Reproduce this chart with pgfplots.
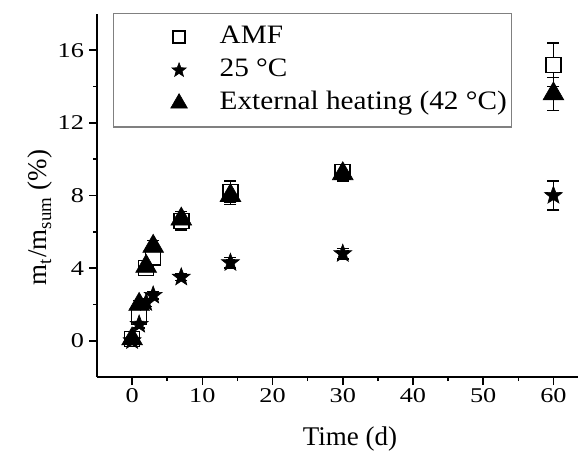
\documentclass[border=0pt]{standalone}
\usepackage{pgfplots}
\pgfplotsset{compat=1.18}
\usepackage{fontspec}
\setmainfont{Liberation Serif}
\newfontfamily\tickfont{Liberation Serif}[FakeStretch=1.25]
\newfontfamily\legfont{Liberation Serif}[FakeStretch=1.1]

% filled five-point star
\pgfdeclareplotmark{fstar}{%
  \pgfpathmoveto{\pgfpointpolar{90}{\pgfplotmarksize}}%
  \pgfpathlineto{\pgfpointpolar{126}{0.42\pgfplotmarksize}}%
  \pgfpathlineto{\pgfpointpolar{162}{\pgfplotmarksize}}%
  \pgfpathlineto{\pgfpointpolar{198}{0.42\pgfplotmarksize}}%
  \pgfpathlineto{\pgfpointpolar{234}{\pgfplotmarksize}}%
  \pgfpathlineto{\pgfpointpolar{270}{0.42\pgfplotmarksize}}%
  \pgfpathlineto{\pgfpointpolar{306}{\pgfplotmarksize}}%
  \pgfpathlineto{\pgfpointpolar{342}{0.42\pgfplotmarksize}}%
  \pgfpathlineto{\pgfpointpolar{18}{\pgfplotmarksize}}%
  \pgfpathlineto{\pgfpointpolar{54}{0.42\pgfplotmarksize}}%
  \pgfpathclose
  \pgfusepathqfillstroke
}

\begin{document}
\begin{tikzpicture}
  \begin{axis}[
    name=ax,
    scale only axis,
    width=240.5pt, height=181.5pt,
    xmin=-5, xmax=63.5,
    ymin=-2, ymax=18,
    axis x line*=bottom,
    axis y line*=left,
    axis line style={line width=0.9pt},
    xtick={0,10,20,30,40,50,60},
    ytick={0,4,8,12,16},
    minor x tick num=1,
    minor y tick num=1,
    tick align=outside,
    major tick length=4pt,
    minor tick length=2pt,
    tick style={line width=0.8pt, black},
    /pgf/number format/assume math mode=true,
    tick label style={font=\tickfont\fontsize{10.5}{12}\selectfont},
    xticklabel style={yshift=2pt},
    yticklabel style={xshift=1pt},
    label style={font=\fontsize{13.5}{16}\selectfont},
    xlabel={Time (d)},
    ylabel={m\textsubscript{t}/m\textsubscript{sum} (\%)},
    xlabel style={at={(axis description cs:0.526,-0.171)}, anchor=center},
    ylabel style={at={(axis description cs:-0.118,0.44)}, anchor=center},
    legend style={
      at={(axis description cs:0.033,1.003)}, anchor=north west,
      draw=gray, line width=0.6pt, fill=white,
      font=\legfont\fontsize{13.3}{15}\selectfont,
      inner xsep=2.5pt, inner ysep=5.5pt,
      row sep=3.75pt,
      nodes={inner sep=0pt, text height=9.5pt, text depth=3.25pt},
    },
    legend image code/.code={%
      \path (-30pt,0pt) (20pt,0pt);
      \draw[every mark/.append style={scale=0.8}] plot coordinates {(0pt,0pt)};
    },
    legend cell align=left,
    clip=false,
  ]
    % AMF
    \addplot[only marks, mark=square*, mark size=3.75pt,
      mark options={fill=white, draw=black, line width=0.8pt},
      error bars/.cd, y dir=both, y explicit,
      error bar style={line width=0.6pt, black},
      error mark options={rotate=90, mark size=3pt, line width=0.6pt}]
      table[x=t, y=m, y error=e] {
        t  m    e
        0  0.1  0.1
        1  1.3  0.3
        2  4.0  0.3
        3  4.6  0.3
        7  6.6  0.5
        14 8.2  0.6
        30 9.3  0.4
        60 15.2 1.2
      };
    \addlegendentry{AMF}

    % 25 C
    \addplot[only marks, mark=fstar, mark size=4.7pt,
      mark options={fill=black, draw=black, line width=0.3pt},
      error bars/.cd, y dir=both, y explicit,
      error bar style={line width=0.6pt, black},
      error mark options={rotate=90, mark size=3pt, line width=0.6pt}]
      table[x=t, y=m, y error=e] {
        t  m    e
        0  0.0  0.1
        1  0.9  0.2
        2  2.1  0.2
        3  2.5  0.2
        7  3.5  0.2
        14 4.3  0.3
        30 4.8  0.3
        60 8.0  0.8
      };
    \addlegendentry{25 °C}

    % External heating
    \addplot[only marks, mark=triangle*, mark size=6pt,
      mark options={fill=black, draw=black, line width=0.3pt},
      error bars/.cd, y dir=both, y explicit,
      error bar style={line width=0.6pt, black},
      error mark options={rotate=90, mark size=3pt, line width=0.6pt}]
      table[x=t, y=m, y error=e] {
        t  m    e
        0  0.1  0.1
        1  2.0  0.2
        2  4.1  0.3
        3  5.2  0.3
        7  6.7  0.4
        14 8.0  0.5
        30 9.2  0.4
        60 13.6 0.9
      };
    \addlegendentry{External heating (42 °C)}
  \end{axis}
  % picture margins as in the reference
  \path ([shift={(-48.5pt,7pt)}]ax.north west) rectangle ([shift={(1pt,-39pt)}]ax.south east);
\end{tikzpicture}
\end{document}
